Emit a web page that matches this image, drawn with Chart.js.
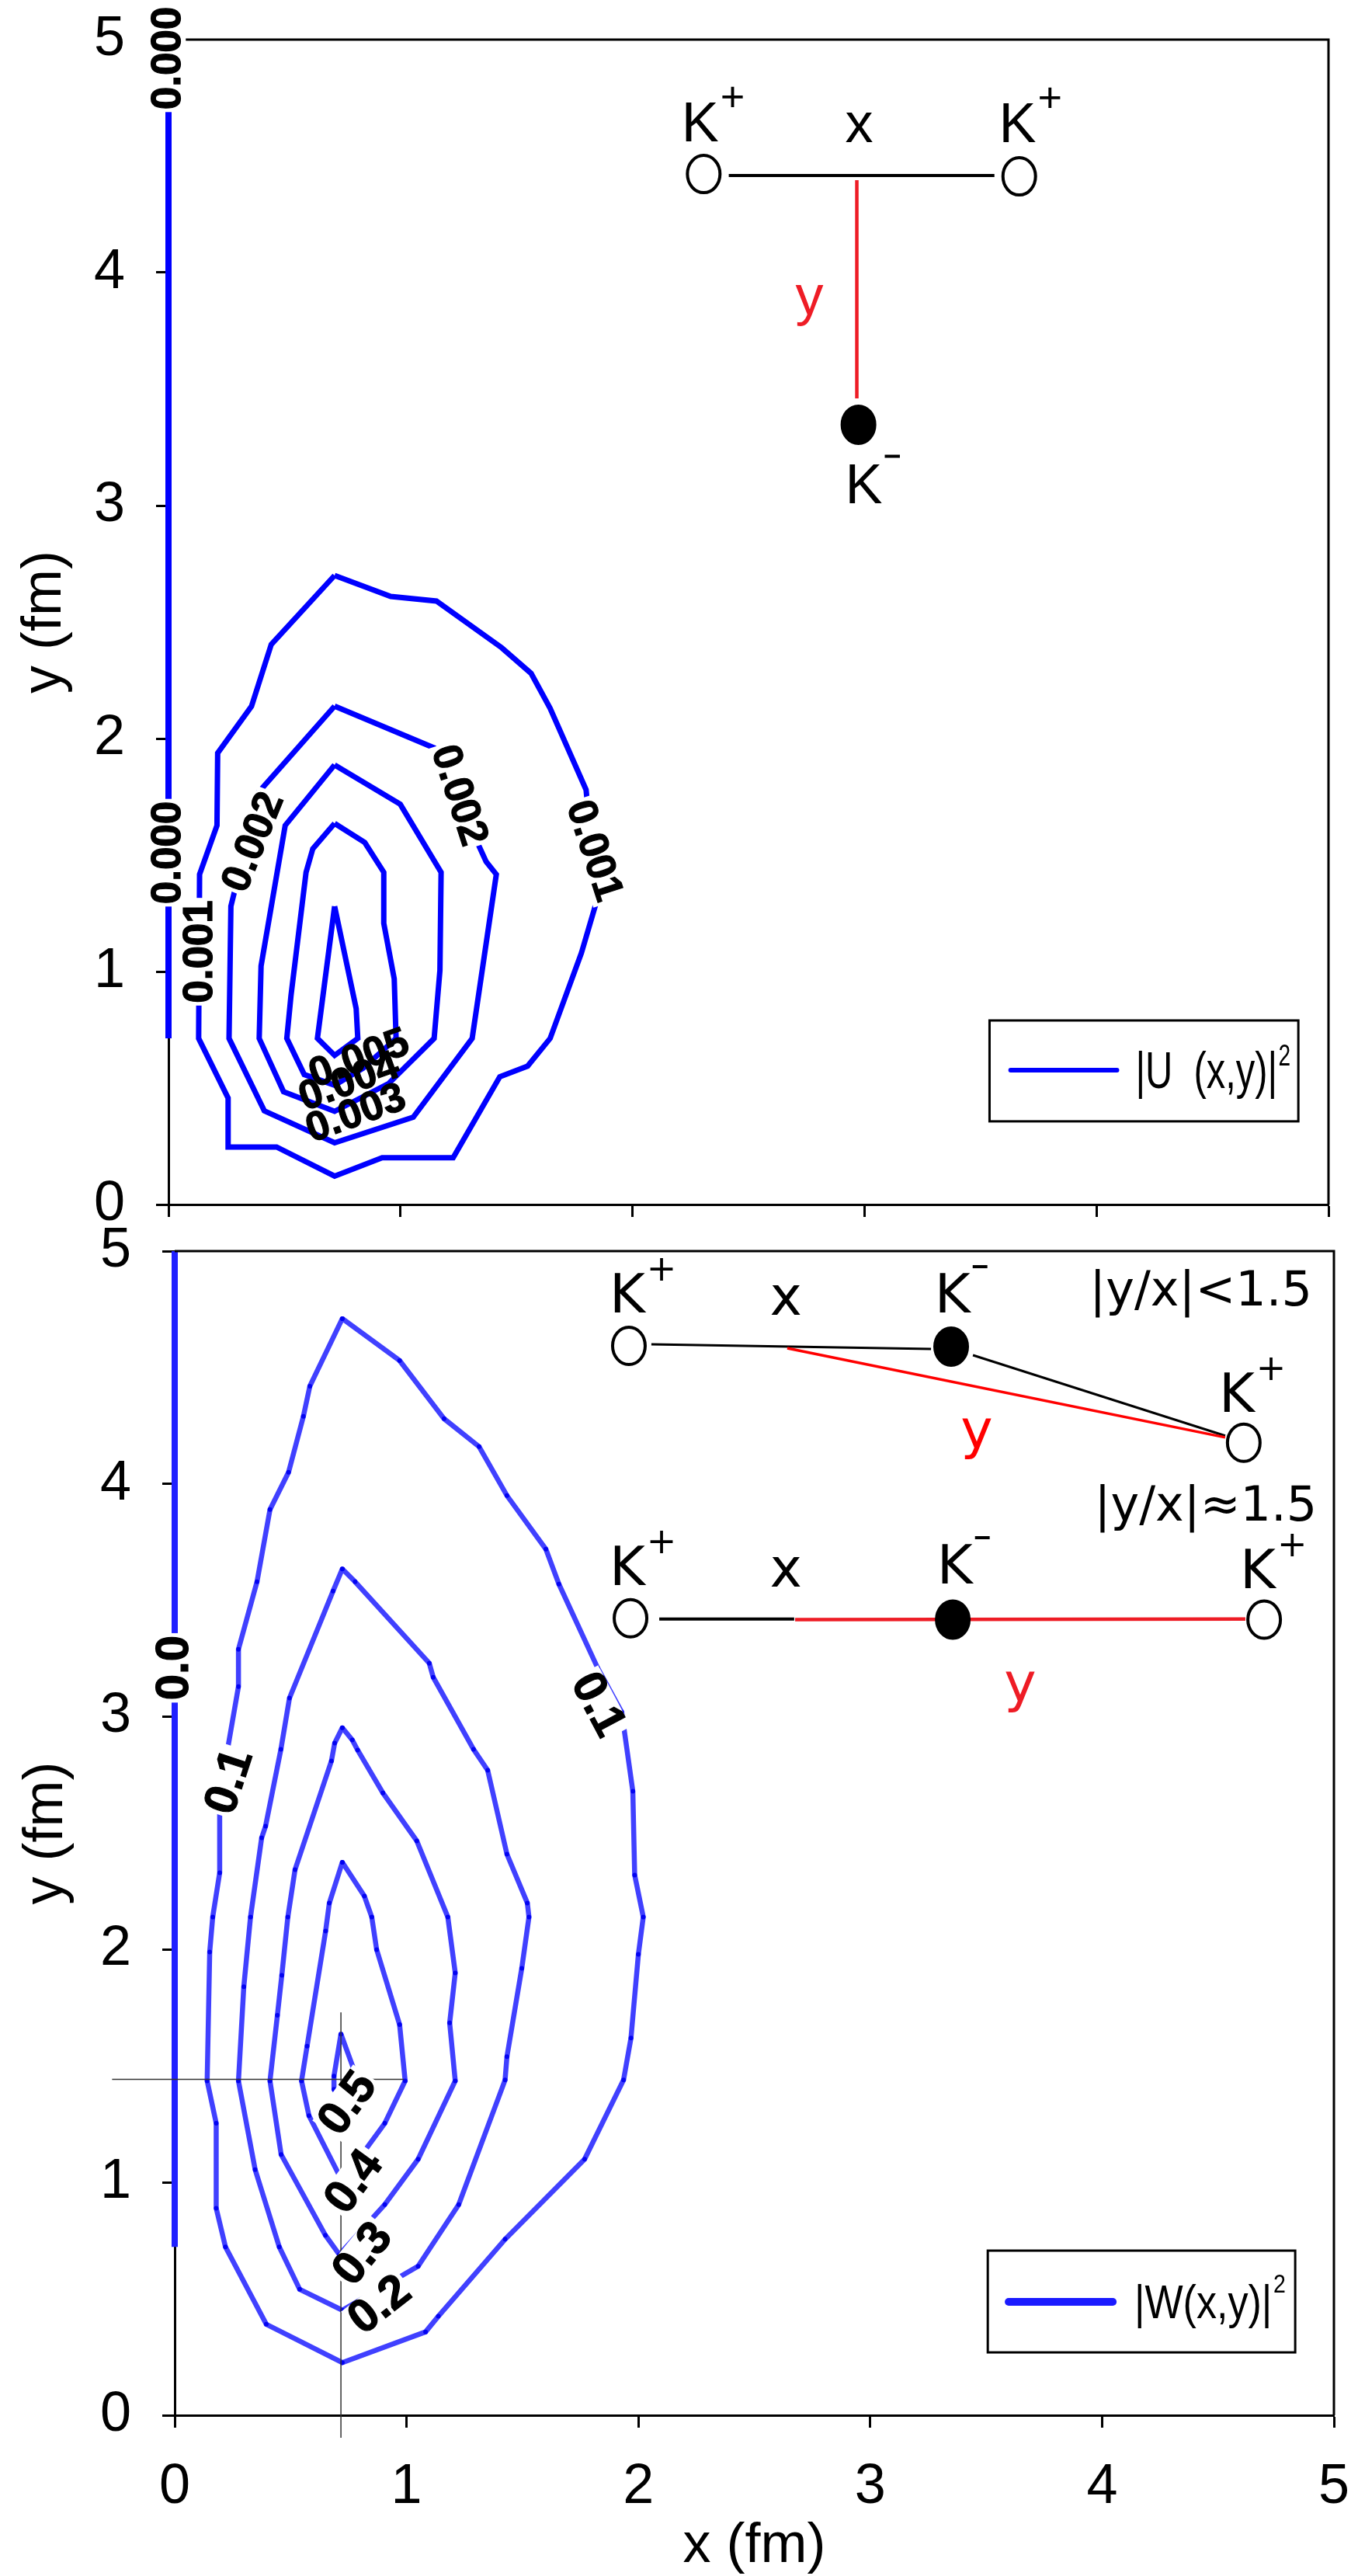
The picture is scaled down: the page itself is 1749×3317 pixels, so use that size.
<!DOCTYPE html>
<html>
<head>
<meta charset="utf-8">
<title>|U(x,y)|^2 and |W(x,y)|^2</title>
<script src="https://cdn.jsdelivr.net/npm/chart.js@4.4.1/dist/chart.umd.min.js"></script>
<style>
  html, body { margin: 0; padding: 0; background: #fff; overflow: hidden; }
  .panel { position: absolute; left: 0; width: 1749px; }
  #panelU { top: 0; height: 1600px; }
  #panelW { top: 1580px; height: 1737px; }
</style>
</head>
<body>
<div class="panel" id="panelU"><canvas id="chartU"></canvas></div>
<div class="panel" id="panelW"><canvas id="chartW"></canvas></div>
<script>
// values, x and y in fm
const axisTicks = [0, 1, 2, 3, 4, 5];
const tickLabels = ['0', '1', '2', '3', '4', '5'];

// top panel, |U(x,y)|^2 contours
const u0x = [0, 0];
const u0y = [0.713, 5];
const u1x = [0.716, 0.958, 1.155, 1.436, 1.563, 1.645, 1.800, 1.845, 1.780, 1.645, 1.548, 1.428, 1.227, 0.921, 0.716, 0.466, 0.257, 0.257, 0.130, 0.134, 0.209, 0.212, 0.358, 0.443, 0.716];
const u1y = [2.70, 2.61, 2.59, 2.39, 2.28, 2.13, 1.78, 1.30, 1.08, 0.713, 0.594, 0.548, 0.201, 0.201, 0.122, 0.247, 0.247, 0.457, 0.713, 1.417, 1.627, 1.938, 2.139, 2.404, 2.70];
const u2x = [0.716, 1.145, 1.369, 1.413, 1.309, 1.055, 0.716, 0.413, 0.261, 0.269, 0.391, 0.716];
const u2y = [2.139, 1.960, 1.472, 1.417, 0.713, 0.375, 0.265, 0.402, 0.713, 1.280, 1.773, 2.139];
const u3x = [0.716, 0.999, 1.175, 1.170, 1.145, 0.950, 0.716, 0.496, 0.391, 0.399, 0.503, 0.716];
const u3y = [1.887, 1.718, 1.426, 1.005, 0.713, 0.520, 0.400, 0.484, 0.713, 1.024, 1.627, 1.887];
const u4x = [0.716, 0.846, 0.928, 0.928, 0.973, 0.981, 0.839, 0.716, 0.585, 0.510, 0.528, 0.593, 0.622, 0.716];
const u4y = [1.636, 1.554, 1.426, 1.207, 0.969, 0.713, 0.585, 0.512, 0.558, 0.713, 0.896, 1.426, 1.527, 1.636];
const u5x = [0.716, 0.809, 0.816, 0.716, 0.642, 0.716];
const u5y = [1.280, 0.841, 0.713, 0.640, 0.713, 1.280];

const uLabelText = ['0.000', '0.000', '0.001', '0.002', '0.002', '0.001', '0.005', '0.004', '0.003'];
const uLabelX = [0.0, 0.0, 0.137, 0.369, 1.249, 1.831, 0.823, 0.779, 0.809];
const uLabelY = [4.92, 1.51, 1.085, 1.554, 1.755, 1.517, 0.623, 0.523, 0.387];
const uLabelAngle = [-90, -90, -90, -68, 72, 72, -20, -20, -20];

// bottom panel, |W(x,y)|^2 contours
const w0x = [0, 0];
const w0y = [0.723, 5];
const w1x = [0.723, 0.970, 1.162, 1.313, 1.433, 1.601, 1.657, 1.824, 1.928, 1.976, 1.984, 2.021, 2.000, 1.968, 1.936, 1.768, 1.425, 1.137, 1.082, 0.723, 0.395, 0.219, 0.179, 0.179, 0.140, 0.151, 0.164, 0.194, 0.194, 0.228, 0.275, 0.275, 0.355, 0.411, 0.491, 0.555, 0.583, 0.723];
const w1y = [4.71, 4.53, 4.28, 4.16, 3.95, 3.72, 3.57, 3.21, 3.02, 2.68, 2.32, 2.14, 1.98, 1.62, 1.44, 1.10, 0.756, 0.425, 0.358, 0.226, 0.391, 0.723, 0.889, 1.254, 1.436, 1.99, 2.14, 2.33, 2.66, 2.86, 3.13, 3.29, 3.58, 3.89, 4.05, 4.29, 4.42, 4.71];
const w2x = [0.723, 0.778, 1.098, 1.115, 1.289, 1.350, 1.433, 1.521, 1.528, 1.497, 1.433, 1.425, 1.225, 1.050, 0.723, 0.539, 0.451, 0.347, 0.275, 0.298, 0.327, 0.375, 0.392, 0.458, 0.495, 0.683, 0.723];
const w2y = [3.635, 3.58, 3.23, 3.17, 2.86, 2.77, 2.41, 2.20, 2.14, 1.92, 1.54, 1.44, 0.905, 0.640, 0.451, 0.541, 0.723, 1.055, 1.436, 1.84, 2.14, 2.48, 2.53, 2.86, 3.08, 3.54, 3.635];
const w3x = [0.723, 0.766, 0.789, 0.898, 1.044, 1.178, 1.210, 1.186, 1.210, 1.050, 0.906, 0.710, 0.650, 0.459, 0.411, 0.443, 0.462, 0.488, 0.519, 0.676, 0.690, 0.723];
const w3y = [2.953, 2.90, 2.857, 2.673, 2.467, 2.14, 1.90, 1.685, 1.436, 1.10, 0.905, 0.69, 0.773, 1.12, 1.436, 1.718, 1.89, 2.14, 2.343, 2.81, 2.887, 2.953];
const w4x = [0.723, 0.818, 0.850, 0.871, 0.970, 0.994, 0.906, 0.723, 0.579, 0.547, 0.571, 0.651, 0.667, 0.723];
const w4y = [2.375, 2.23, 2.14, 2.00, 1.678, 1.436, 1.254, 1.005, 1.287, 1.436, 1.585, 2.08, 2.20, 2.375];
const w5x = [0.717, 0.777, 0.720, 0.687, 0.687, 0.717];
const w5y = [1.637, 1.473, 1.343, 1.400, 1.457, 1.637];
// thin cross marking the maximum
const crossHx = [-0.27, 0.988];
const crossHy = [1.443, 1.443];
const crossVx = [0.717, 0.717];
const crossVy = [1.73, -0.097];

const wLabelText = ['0.0', '0.1', '0.1', '0.5', '0.4', '0.3', '0.2'];
const wLabelX = [0.0, 0.24, 1.822, 0.750, 0.777, 0.814, 0.887];
const wLabelY = [3.21, 2.72, 3.05, 1.337, 1.00, 0.69, 0.47];
const wLabelAngle = [-90, -72, 62, -54, -54, -51, -38];

// ---------------------------------------------------------------
const SANS = '"Liberation Sans", Arial, sans-serif';
const DEJAVU = '"DejaVu Sans", sans-serif';
Chart.defaults.font.family = SANS;
Chart.defaults.color = '#000';

function series(xs, ys, color, width, dot) {
  return {
    data: xs.map((x, i) => ({ x: x, y: ys[i] })),
    showLine: true,
    borderColor: color,
    borderWidth: width,
    pointRadius: dot ? 3 : 0,
    pointHoverRadius: 0,
    pointBackgroundColor: dot || color,
    pointBorderWidth: 0,
    clip: false
  };
}

// fixed axis box sizes; drop the label overhang padding chart.js adds
function pinSize(s, key, value) {
  s[key] = value;
  s.paddingTop = s.paddingBottom = s.paddingLeft = s.paddingRight = 0;
}

function makeScales(cfg) {
  const grid = { drawOnChartArea: false, drawTicks: true, tickLength: 16, tickWidth: 3, tickColor: '#000' };
  const border = { display: true, color: '#000', width: 3 };
  const setTicks = s => { s.ticks = axisTicks.map(v => ({ value: v })); };
  return {
    x: {
      type: 'linear', min: 0, max: 5, grid: grid, border: border,
      afterBuildTicks: setTicks,
      ticks: { display: cfg.xLabels, font: { size: 72 }, padding: 34, maxRotation: 0,
               callback: (v, i) => tickLabels[i] },
      title: { display: cfg.xLabels, text: 'x (fm)', font: { size: 72 }, padding: { top: 0, bottom: -5 } },
      afterFit: s => pinSize(s, 'height', cfg.xHeight)
    },
    y: {
      type: 'linear', min: 0, max: 5, grid: grid, border: border,
      afterBuildTicks: setTicks,
      ticks: { font: { size: 72 }, padding: 40, callback: (v, i) => tickLabels[i] },
      title: { display: true, text: 'y (fm)', font: { size: 72 }, padding: { top: cfg.titlePad, bottom: 0 } },
      afterFit: s => pinSize(s, 'width', cfg.yWidth)
    }
  };
}

function frame(ctx, a) {
  ctx.save();
  ctx.strokeStyle = '#000';
  ctx.lineWidth = 3;
  ctx.beginPath();
  ctx.moveTo(a.left, a.top);
  ctx.lineTo(a.right, a.top);
  ctx.lineTo(a.right, a.bottom);
  ctx.stroke();
  ctx.restore();
}

function contourLabels(chart, texts, xs, ys, angles, size, boxed) {
  const { ctx, scales: { x, y } } = chart;
  ctx.save();
  ctx.font = 'bold ' + size + 'px ' + SANS;
  ctx.textAlign = 'center';
  ctx.textBaseline = 'middle';
  const place = i => {
    ctx.translate(x.getPixelForValue(xs[i]), y.getPixelForValue(ys[i]));
    ctx.rotate(angles[i] * Math.PI / 180);
  };
  texts.forEach((t, i) => {
    if (!boxed[i]) return;
    ctx.save();
    place(i);
    const w = ctx.measureText(t).width;
    ctx.fillStyle = '#fff';
    ctx.fillRect(-w / 2 - 3, -size * 0.42, w + 6, size * 0.84);
    ctx.restore();
  });
  texts.forEach((t, i) => {
    ctx.save();
    place(i);
    ctx.fillStyle = '#000';
    ctx.strokeStyle = '#000';
    ctx.lineWidth = 1.2;
    ctx.fillText(t, 0, 0);
    ctx.strokeText(t, 0, 0);
    ctx.restore();
  });
  ctx.restore();
}

function ring(ctx, px, py, filled) {
  ctx.beginPath();
  ctx.ellipse(px, py, 21, 24, 0, 0, Math.PI * 2);
  ctx.fillStyle = filled ? '#000' : '#fff';
  ctx.fill();
  ctx.lineWidth = 4;
  ctx.strokeStyle = '#000';
  ctx.stroke();
}

function kaon(ctx, px, py, sign, size, family, plusScale) {
  ctx.fillStyle = '#000';
  ctx.font = size + 'px ' + family;
  ctx.textAlign = 'center';
  ctx.textBaseline = 'alphabetic';
  ctx.fillText('K', px, py);
  const w = ctx.measureText('K').width;
  if (sign === '+') {
    ctx.font = Math.round(size * plusScale) + 'px ' + family;
    ctx.textAlign = 'left';
    ctx.textBaseline = 'middle';
    ctx.fillText('+', px + w / 2 + 2, py - size * 0.75);
  } else {
    ctx.fillRect(px + w / 2 + 3, py - size * 0.84 - 2, size * 0.27, 4);
  }
}

function text(ctx, s, px, py, size, family, color, align) {
  ctx.fillStyle = color;
  ctx.font = size + 'px ' + family;
  ctx.textAlign = align || 'center';
  ctx.textBaseline = 'alphabetic';
  ctx.fillText(s, px, py);
}

function seg(ctx, x1, y1, x2, y2, color, width) {
  ctx.beginPath();
  ctx.moveTo(x1, y1);
  ctx.lineTo(x2, y2);
  ctx.strokeStyle = color;
  ctx.lineWidth = width;
  ctx.lineCap = 'butt';
  ctx.stroke();
}

function legendBox(ctx, X, Y, o) {
  const [bx1, by1, bx2, by2] = o.box;
  ctx.save();
  ctx.fillStyle = '#fff';
  ctx.fillRect(X(bx1), Y(by1), X(bx2) - X(bx1), Y(by2) - Y(by1));
  ctx.strokeStyle = '#000';
  ctx.lineWidth = 3;
  ctx.strokeRect(X(bx1), Y(by1), X(bx2) - X(bx1), Y(by2) - Y(by1));
  ctx.beginPath();
  ctx.moveTo(X(o.line[0]), Y(o.line[2]));
  ctx.lineTo(X(o.line[1]), Y(o.line[2]));
  ctx.strokeStyle = o.color;
  ctx.lineWidth = o.lineWidth;
  ctx.lineCap = 'round';
  ctx.stroke();
  ctx.translate(X(o.at[0]), Y(o.at[1]));
  ctx.scale(o.squeeze, 1);
  ctx.fillStyle = '#000';
  ctx.font = o.size + 'px ' + SANS;
  ctx.textAlign = 'left';
  ctx.textBaseline = 'alphabetic';
  ctx.fillText(o.text, 0, 0);
  const w = ctx.measureText(o.text).width;
  ctx.font = o.supSize + 'px ' + SANS;
  ctx.fillText('2', w + 2, -o.supRise);
  ctx.restore();
}

const overlayU = {
  id: 'overlayU',
  afterDatasetsDraw(chart) {
    const { ctx, chartArea, scales: { x, y } } = chart;
    const X = v => x.getPixelForValue(v), Y = v => y.getPixelForValue(v);
    frame(ctx, chartArea);
    contourLabels(chart, uLabelText, uLabelX, uLabelY, uLabelAngle, 53,
                  [true, true, true, true, true, true, false, false, false]);
    ctx.save();
    // inset: K+ - K+ pair along x, K- at distance y
    seg(ctx, X(2.415), Y(4.417), X(3.56), Y(4.417), '#000', 4);
    seg(ctx, X(2.967), Y(4.397), X(2.967), Y(3.46), '#ee1c25', 4.5);
    ring(ctx, X(2.307), Y(4.423), false);
    ring(ctx, X(3.667), Y(4.413), false);
    ring(ctx, X(2.974), Y(3.347), true);
    kaon(ctx, X(2.292), Y(4.563), '+', 72, SANS, 0.75);
    kaon(ctx, X(3.66), Y(4.56), '+', 72, SANS, 0.75);
    kaon(ctx, X(2.997), Y(3.01), '-', 72, SANS, 0.75);
    text(ctx, 'x', X(2.977), Y(4.56), 72, SANS, '#000');
    text(ctx, 'y', X(2.763), Y(3.82), 72, SANS, '#ee1c25');
    ctx.restore();
    legendBox(ctx, X, Y, {
      box: [3.539, 0.79, 4.87, 0.357], line: [3.63, 4.088, 0.577], color: '#0000ff', lineWidth: 6,
      at: [4.168, 0.5], text: '|U  (x,y)|', size: 66, squeeze: 0.74, supSize: 38, supRise: 29
    });
  }
};

const overlayW = {
  id: 'overlayW',
  afterDatasetsDraw(chart) {
    const { ctx, chartArea, scales: { x, y } } = chart;
    const X = v => x.getPixelForValue(v), Y = v => y.getPixelForValue(v);
    frame(ctx, chartArea);
    contourLabels(chart, wLabelText, wLabelX, wLabelY, wLabelAngle, 60,
                  [true, true, true, true, true, true, true]);
    ctx.save();
    // inset row 1: |y/x| < 1.5
    seg(ctx, X(2.056), Y(4.60), X(3.262), Y(4.58), '#000', 3);
    seg(ctx, X(3.443), Y(4.553), X(4.531), Y(4.207), '#000', 3);
    seg(ctx, X(2.642), Y(4.583), X(4.531), Y(4.20), '#ff0000', 3.5);
    ring(ctx, X(1.959), Y(4.593), false);
    ring(ctx, X(3.349), Y(4.59), true);
    ring(ctx, X(4.611), Y(4.177), false);
    kaon(ctx, X(1.952), Y(4.737), '+', 70, DEJAVU, 0.66);
    kaon(ctx, X(3.355), Y(4.737), '-', 70, DEJAVU, 0.66);
    kaon(ctx, X(4.581), Y(4.31), '+', 70, DEJAVU, 0.66);
    text(ctx, 'x', X(2.636), Y(4.727), 70, DEJAVU, '#000');
    text(ctx, 'y', X(3.459), Y(4.153), 70, DEJAVU, '#ff0000');
    text(ctx, '|y/x|<1.5', X(4.906), Y(4.767), 62, DEJAVU, '#000', 'right');
    // inset row 2: |y/x| ~ 1.5
    text(ctx, '|y/x|\u22481.5', X(4.927), Y(3.843), 62, DEJAVU, '#000', 'right');
    seg(ctx, X(2.09), Y(3.42), X(2.672), Y(3.42), '#000', 4);
    seg(ctx, X(2.676), Y(3.417), X(4.618), Y(3.42), '#ee1c25', 4.5);
    ring(ctx, X(1.966), Y(3.423), false);
    ring(ctx, X(3.356), Y(3.417), true);
    ring(ctx, X(4.699), Y(3.417), false);
    kaon(ctx, X(1.952), Y(3.567), '+', 70, DEJAVU, 0.66);
    kaon(ctx, X(3.365), Y(3.573), '-', 70, DEJAVU, 0.66);
    kaon(ctx, X(4.672), Y(3.553), '+', 70, DEJAVU, 0.66);
    text(ctx, 'x', X(2.636), Y(3.56), 70, DEJAVU, '#000');
    text(ctx, 'y', X(3.647), Y(3.067), 70, DEJAVU, '#ee1c25');
    ctx.restore();
    legendBox(ctx, X, Y, {
      box: [3.507, 0.707, 4.833, 0.27], line: [3.597, 4.046, 0.487], color: '#1a1aff', lineWidth: 10,
      at: [4.139, 0.417], text: '|W(x,y)|', size: 62, squeeze: 0.84, supSize: 34, supRise: 33
    });
  }
};

const blue = '#0000ff';
new Chart(document.getElementById('chartU'), {
  type: 'scatter',
  data: {
    datasets: [
      series(u0x, u0y, blue, 8),
      series(u1x, u1y, blue, 7),
      series(u2x, u2y, blue, 7),
      series(u3x, u3y, blue, 7),
      series(u4x, u4y, blue, 7),
      series(u5x, u5y, blue, 7)
    ]
  },
  options: {
    responsive: true,
    maintainAspectRatio: false,
    animation: false,
    events: [],
    layout: { padding: { top: 51, right: 38, bottom: 0, left: 0 } },
    plugins: { legend: { display: false }, tooltip: { enabled: false } },
    scales: makeScales({ xLabels: false, xHeight: 49, yWidth: 217, titlePad: 15 })
  },
  plugins: [overlayU]
});

const wLine = 'rgba(0, 0, 255, 0.75)';
const wDot = 'rgba(0, 0, 240, 0.95)';
new Chart(document.getElementById('chartW'), {
  type: 'scatter',
  data: {
    datasets: [
      series(crossHx, crossHy, '#333', 1.5),
      series(crossVx, crossVy, '#333', 1.5),
      series(w0x, w0y, '#2020ff', 8),
      series(w1x, w1y, wLine, 6.5, wDot),
      series(w2x, w2y, wLine, 6.5, wDot),
      series(w3x, w3y, wLine, 6.5, wDot),
      series(w4x, w4y, wLine, 6.5, wDot),
      series(w5x, w5y, wLine, 6.5, wDot)
    ]
  },
  options: {
    responsive: true,
    maintainAspectRatio: false,
    animation: false,
    events: [],
    layout: { padding: { top: 31, right: 31, bottom: 0, left: 0 } },
    plugins: { legend: { display: false }, tooltip: { enabled: false } },
    scales: makeScales({ xLabels: true, xHeight: 207, yWidth: 225, titlePad: 17 })
  },
  plugins: [overlayW]
});
</script>
</body>
</html>
